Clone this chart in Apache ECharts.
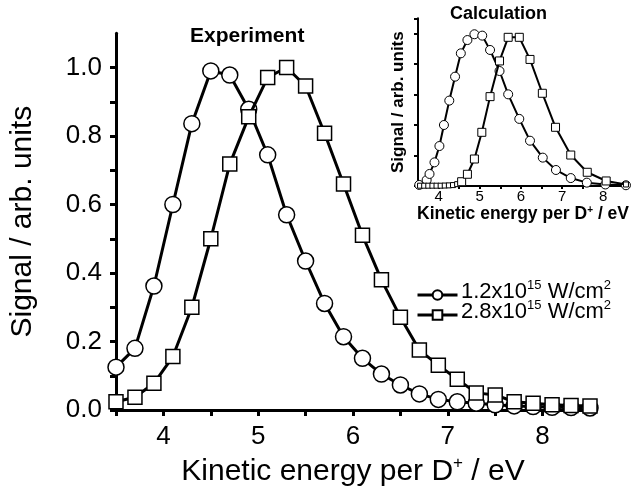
<!DOCTYPE html>
<html>
<head>
<meta charset="utf-8">
<script src="https://cdn.jsdelivr.net/npm/echarts@6/dist/echarts.min.js"></script>
<style>html,body{margin:0;padding:0;background:#fff;}#c{width:633px;height:495px;}</style>
</head>
<body>
<div id="c"></div>
<script>
// Main panel (Experiment)
var expEnergy = [3.5,3.7,3.9,4.1,4.3,4.5,4.7,4.9,5.1,5.3,5.5,5.7,5.9,6.1,6.3,6.5,6.7,6.9,7.1,7.3,7.5,7.7,7.9,8.1,8.3,8.5];
var expLow  = [0.125,0.18,0.362,0.60,0.836,0.99,0.978,0.878,0.745,0.57,0.435,0.311,0.214,0.151,0.105,0.073,0.047,0.031,0.024,0.02,0.015,0.012,0.01,0.008,0.007,0.006];
var expHigh = [0.024,0.037,0.078,0.156,0.30,0.50,0.718,0.856,0.971,1.0,0.946,0.808,0.66,0.51,0.38,0.271,0.175,0.131,0.09,0.05,0.044,0.024,0.02,0.015,0.013,0.012];
// Inset (Calculation)
var calcLowX = [3.53,3.71,3.78,3.90,4.02,4.13,4.26,4.40,4.54,4.70,4.87,5.06,5.25,5.48,5.69,5.96,6.22,6.53,6.85,7.21,7.60,8.05,8.55];
var calcLowY = [0.007,0.039,0.079,0.155,0.262,0.40,0.56,0.717,0.87,0.957,0.995,0.986,0.892,0.754,0.601,0.44,0.297,0.186,0.105,0.052,0.022,0.01,0.005];
var calcHighX = [3.55,3.65,3.75,3.85,3.95,4.05,4.15,4.25,4.35,4.45,4.56,4.70,4.87,5.05,5.25,5.48,5.69,5.96,6.22,6.52,6.84,7.21,7.61,8.07,8.55];
var calcHighY = [0.002,0.002,0.002,0.002,0.002,0.002,0.003,0.004,0.006,0.012,0.028,0.077,0.177,0.352,0.586,0.82,0.975,0.975,0.83,0.608,0.385,0.203,0.09,0.033,0.01];
// Labels
var legendNames = ['1.2x10^15 W/cm^2','2.8x10^15 W/cm^2'];
var yTickValues = [0,0.2,0.4,0.6,0.8,1.0];
var xTickValues = [4,5,6,7,8];

function pairs(xs, ys){ return xs.map(function(x,i){ return [x, ys[i]]; }); }
function isIn(list, v){ return list.some(function(t){ return Math.abs(t-v)<1e-6; }); }
function supText(n){ var p=n.split('^'); var q=p[1].split(' '); return '{t|'+p[0]+'}{s|'+q[0]+'}{t| '+q[1]+'}{s|'+p[2]+'}'; }

var FONT = '"Liberation Sans", Arial, sans-serif';
var supRich = {t:{fontFamily:FONT, fontSize:22, fontWeight:'normal', color:'#000', lineHeight:24, verticalAlign:'bottom'},
               s:{fontFamily:FONT, fontSize:13, fontWeight:'normal', color:'#000', lineHeight:24, verticalAlign:'top'}};
var chart = echarts.init(document.getElementById('c'), null, {renderer:'canvas'});

var option = {
  animation:false,
  backgroundColor:'#fff',
  textStyle:{fontFamily:FONT, color:'#000'},
  title:[
    {text:'Experiment', left:185, top:21, textStyle:{fontFamily:FONT, fontWeight:'bold', fontSize:21, color:'#000'}},
    {text:'Calculation', left:445, top:0, textStyle:{fontFamily:FONT, fontWeight:'bold', fontSize:18, color:'#000'}},
    {text:supText(legendNames[0]), left:456, top:274, textStyle:{fontWeight:'normal', rich:supRich}},
    {text:supText(legendNames[1]), left:456, top:294, textStyle:{fontWeight:'normal', rich:supRich}}
  ],
  legend:{
    data:legendNames, orient:'vertical', left:411, top:284, itemGap:8,
    itemWidth:40, itemHeight:12,
    lineStyle:{width:3, color:'#000'},
    formatter:function(){ return ' '; },
    textStyle:{fontSize:12}
  },
  grid:[
    {left:115, right:43, top:33.25, bottom:85},
    {left:418, right:5, top:18.25, bottom:309}
  ],
  xAxis:[
    {gridIndex:0, type:'value', min:3.5, max:8.5, interval:0.5,
     axisLine:{show:true, onZero:false, lineStyle:{color:'#000', width:3}}, splitLine:{show:false},
     axisTick:{show:true, length:6, lineStyle:{width:3, color:'#000'}},
     axisLabel:{fontFamily:FONT, fontSize:26, color:'#000', margin:14,
       formatter:function(v){ return isIn(xTickValues, v) ? String(Math.round(v)) : ''; }},
     name:'{a|Kinetic energy per D}{s|+}{a| / eV}', nameLocation:'middle', nameGap:40,
     nameTextStyle:{rich:{a:{fontFamily:FONT, fontSize:30, color:'#000', lineHeight:32, verticalAlign:'bottom'},
                          s:{fontFamily:FONT, fontSize:17, color:'#000', lineHeight:32, verticalAlign:'top'}}}},
    {gridIndex:1, type:'value', min:3.5, max:8.6, interval:0.5,
     axisLine:{show:true, onZero:false, lineStyle:{color:'#000', width:2}}, splitLine:{show:false},
     axisTick:{show:true, length:3, lineStyle:{width:2, color:'#000'}},
     axisLabel:{fontFamily:FONT, fontSize:15, color:'#000', margin:3,
       formatter:function(v){ return isIn(xTickValues, v) ? String(Math.round(v)) : ''; }},
     name:'{a|Kinetic energy per D}{s|+}{a| / eV}', nameLocation:'middle', nameGap:17,
     nameTextStyle:{rich:{a:{fontFamily:FONT, fontSize:17.5, fontWeight:'bold', color:'#000', lineHeight:18, verticalAlign:'bottom'},
                          s:{fontFamily:FONT, fontSize:10, fontWeight:'bold', color:'#000', lineHeight:18, verticalAlign:'top'}}}}
  ],
  yAxis:[
    {gridIndex:0, type:'value', min:0, max:1.1, interval:0.1,
     axisLine:{show:true, onZero:false, lineStyle:{color:'#000', width:3}}, splitLine:{show:false},
     axisTick:{show:true, length:6, lineStyle:{width:3, color:'#000'}},
     axisLabel:{fontFamily:FONT, fontSize:26, color:'#000', margin:14, showMaxLabel:false,
       formatter:function(v){ return isIn(yTickValues, v) ? v.toFixed(1) : ''; }},
     name:'Signal / arb. units', nameLocation:'middle', nameGap:78,
     nameTextStyle:{fontFamily:FONT, fontSize:30, color:'#000'}},
    {gridIndex:1, type:'value', min:0, max:1.1, interval:0.2,
     axisLine:{show:true, onZero:false, lineStyle:{color:'#000', width:2}}, splitLine:{show:false},
     axisTick:{show:true, length:4, lineStyle:{width:2, color:'#000'}},
     axisLabel:{show:false},
     name:'Signal / arb. units', nameLocation:'middle', nameGap:11,
     nameTextStyle:{fontFamily:FONT, fontSize:17, fontWeight:'bold', color:'#000'}}
  ],
  series:[
    {name:legendNames[0], type:'line', xAxisIndex:0, yAxisIndex:0, data:pairs(expEnergy, expLow),
     symbol:'circle', symbolSize:16, showSymbol:true, clip:false,
     lineStyle:{color:'#000', width:3}, itemStyle:{color:'#fff', borderColor:'#000', borderWidth:1.5}, z:2},
    {name:legendNames[1], type:'line', xAxisIndex:0, yAxisIndex:0, data:pairs(expEnergy, expHigh),
     symbol:'rect', symbolSize:14, showSymbol:true, clip:false,
     lineStyle:{color:'#000', width:3}, itemStyle:{color:'#fff', borderColor:'#000', borderWidth:1.5}, z:3},
    {name:'calcLow', type:'line', xAxisIndex:1, yAxisIndex:1, data:pairs(calcLowX, calcLowY),
     symbol:'circle', symbolSize:9, showSymbol:true, clip:false,
     lineStyle:{color:'#000', width:2}, itemStyle:{color:'#fff', borderColor:'#000', borderWidth:1}, z:2},
    {name:'calcHigh', type:'line', xAxisIndex:1, yAxisIndex:1, data:pairs(calcHighX, calcHighY),
     symbol:'rect', symbolSize:function(v){ return v[1] < 0.015 ? 5 : 8; }, showSymbol:true, clip:false,
     lineStyle:{color:'#000', width:2}, itemStyle:{color:'#fff', borderColor:'#000', borderWidth:1}, z:3}
  ]
};
chart.setOption(option);
</script>
</body>
</html>
